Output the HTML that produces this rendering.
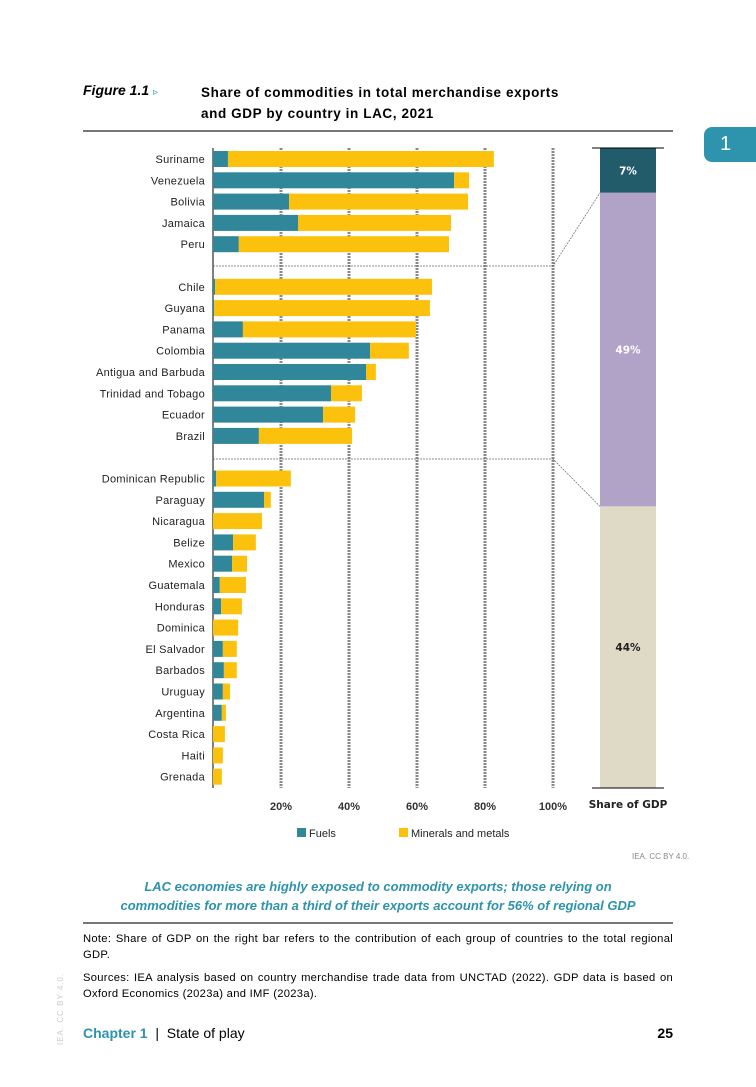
<!DOCTYPE html>
<html><head><meta charset="utf-8"><style>
body{margin:0;background:#fff;width:756px;height:1087px;overflow:hidden;position:relative;font-family:"Liberation Sans",sans-serif}
.abs{position:absolute}
</style></head><body>
<div class="abs" style="left:83px;top:82px;font-weight:bold;font-style:italic;font-size:14px">Figure 1.1 <span style="font-style:normal;font-weight:normal;font-size:10px;color:#2a8fa8">▹</span></div>
<div class="abs" style="left:201px;top:82px;font-weight:bold;font-size:13.5px;letter-spacing:0.6px;line-height:21px">Share of commodities in total merchandise exports<br>and GDP by country in LAC, 2021</div>
<div class="abs" style="left:83px;top:130px;width:590px;height:2px;background:#777"></div>
<div class="abs" style="left:704px;top:127px;width:60px;height:35px;background:#2e93ac;border-radius:8px;color:#fff;font-size:20px;line-height:35px;padding-left:16px;box-sizing:border-box">1</div>
<svg class="abs" style="left:0;top:0" width="756" height="870">
<g id="g"></g>
</svg>
<div class="abs" style="left:632px;top:852px;font-size:8px;color:#888">IEA. CC BY 4.0.</div>
<div class="abs" style="left:83px;top:877px;width:590px;text-align:center;color:#2e93ac;font-weight:bold;font-style:italic;font-size:13px;line-height:19px">LAC economies are highly exposed to commodity exports; those relying on<br>commodities for more than a third of their exports account for 56% of regional GDP</div>
<div class="abs" style="left:83px;top:922px;width:590px;height:2px;background:#777"></div>
<div class="abs" style="left:83px;top:931px;width:590px;font-size:11.2px;letter-spacing:0.3px;line-height:16px;text-align:justify">Note: Share of GDP on the right bar refers to the contribution of each group of countries to the total regional GDP.</div>
<div class="abs" style="left:83px;top:970px;width:590px;font-size:11.2px;letter-spacing:0.3px;line-height:16px;text-align:justify">Sources: IEA analysis based on country merchandise trade data from UNCTAD (2022). GDP data is based on Oxford Economics (2023a) and IMF (2023a).</div>
<div class="abs" style="left:56px;top:1045px;transform:rotate(-90deg);transform-origin:0 0;font-size:8px;color:#ccc;letter-spacing:1px">IEA. CC BY 4.0.</div>
<div class="abs" style="left:83px;top:1025px;font-size:14px"><b style="color:#2e93ac">Chapter 1</b> &nbsp;|&nbsp; State of play</div>
<div class="abs" style="left:650px;top:1025px;width:23px;text-align:right;font-size:14px;font-weight:bold">25</div>
<script>
const countries=["Suriname","Venezuela","Bolivia","Jamaica","Peru","Chile","Guyana","Panama","Colombia","Antigua and Barbuda","Trinidad and Tobago","Ecuador","Brazil","Dominican Republic","Paraguay","Nicaragua","Belize","Mexico","Guatemala","Honduras","Dominica","El Salvador","Barbados","Uruguay","Argentina","Costa Rica","Haiti","Grenada"];
const fuels=[4.4,70.9,22.4,25,7.6,0.6,0.3,8.8,46.2,45,34.7,32.4,13.5,0.9,15,0,5.9,5.6,2,2.4,0,2.9,3.2,2.9,2.6,0,0,0];
const minerals=[78.2,4.4,52.6,45,61.8,63.8,63.5,50.9,11.4,2.9,9.1,9.4,27.4,22,2,14.4,6.7,4.4,7.7,6.1,7.4,4.1,3.8,2.1,1.2,3.5,2.9,2.6];
const ticks=[20,40,60,80,100];
const gdpShares=[7,49,44];
const NS="http://www.w3.org/2000/svg",g=document.getElementById('g');
function el(t,a,txt){const e=document.createElementNS(NS,t);for(const k in a)e.setAttribute(k,a[k]);if(txt!=null)e.textContent=txt;g.appendChild(e);return e;}
const x0=213,xs=3.4;const X=v=>x0+v*xs;
function rowY(i){const gi=i<5?0:i<13?1:2;return 159+(i+gi)*21.3;}
ticks.forEach(t=>{const l=el('line',{x1:X(t),x2:X(t),y1:148,y2:788,stroke:'#888','stroke-width':3,'stroke-dasharray':'2,1'});
const tx=el('text',{x:X(t),y:810,'text-anchor':'middle','font-size':11,'font-weight':'bold',fill:'#333','font-family':'Liberation Sans'},t+'%');});
const ax=el('line',{x1:X(0),x2:X(0),y1:148,y2:788,stroke:'#000','stroke-width':1});
countries.forEach((c,i)=>{const y=rowY(i);
const lb=el('text',{x:205,y:y+4,'text-anchor':'end','font-size':11,fill:'#222','font-family':'Liberation Sans','letter-spacing':'0.3'},c);
if(fuels[i]>0){const b=el('rect',{x:X(0),y:y-8,width:fuels[i]*xs,height:16,fill:'#2f8799'});}
const b2=el('rect',{x:X(fuels[i]),y:y-8,width:minerals[i]*xs,height:16,fill:'#fcc10c'});});
const bx=600,bw=56,barTop=148,H=640;let cy=barTop;const cols=['#225b6a','#b1a2c8','#dfdac5'],tc=['#fff','#fff','#222'];const ends=[];
gdpShares.forEach((s,i)=>{const h=s/100*H;const r=el('rect',{x:bx,y:cy,width:bw,height:h,fill:cols[i]});
const ty=cy+h/2+4;
const t=el('text',{x:bx+bw/2,y:ty,'text-anchor':'middle','font-size':10.5,'font-weight':'bold',fill:tc[i],'font-family':'DejaVu Sans'},s+'%');cy+=h;ends.push(cy);});
[[barTop,'gdp-top-rule'],[barTop+H,'gdp-bottom-rule']].forEach(([y,n])=>{const l=el('line',{x1:bx-8,x2:bx+bw+8,y1:y,y2:y,stroke:'#000','stroke-width':1});});
[[266,ends[0]],[459,ends[1]]].forEach(([y,ey])=>{const l=el('polyline',{points:`${X(0)},${y} ${X(100)},${y} ${bx},${ey}`,fill:'none',stroke:'#666','stroke-width':0.7,'stroke-dasharray':'2,1'});});
const gl=el('text',{x:628,y:808,'text-anchor':'middle','font-size':10.5,'font-weight':'bold',fill:'#222','font-family':'DejaVu Sans'},'Share of GDP');
const l1=el('rect',{x:297,y:828,width:9,height:9,fill:'#2f8799'});
const t1=el('text',{x:309,y:837,'font-size':11,fill:'#222','font-family':'Liberation Sans'},'Fuels');
const l2=el('rect',{x:399,y:828,width:9,height:9,fill:'#fcc10c'});
const t2=el('text',{x:411,y:837,'font-size':11,fill:'#222','font-family':'Liberation Sans'},'Minerals and metals');
</script>
</body></html>
